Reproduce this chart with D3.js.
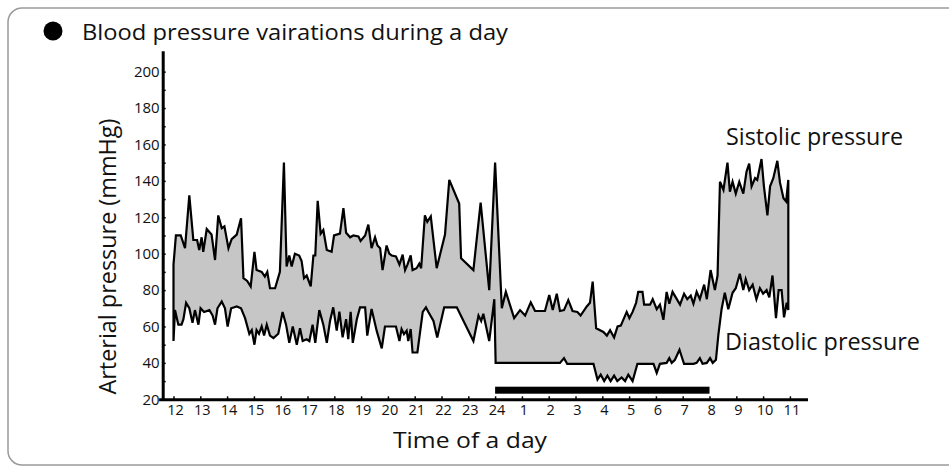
<!DOCTYPE html>
<html>
<head>
<meta charset="utf-8">
<style>
    body { margin: 0; background: #ffffff; }
    svg { display: block; font-family: "Open Sans", "Noto Sans", sans-serif; }
    .axis path, .axis line { stroke: #000; }
    .axis path { stroke-width: 3; }
    .axis line { stroke-width: 1.5; }
    .axis text { font-family: "Open Sans", "Noto Sans", sans-serif; fill: #111; }
</style>
</head>
<body>
<svg id="chart" width="949" height="467"></svg>
<script src="https://cdn.jsdelivr.net/npm/d3@7"></script>
<script>
// hours after 12:00 (0 = 12h, 12 = 24h, 23 = 11h) and pressure in mmHg
let sistolic = [
    [0, 94], [0.09, 110], [0.27, 110], [0.43, 103], [0.59, 132], [0.74, 107.5], [0.88, 107.5],
    [0.96, 102], [1.05, 109], [1.11, 101], [1.24, 113.5], [1.42, 110.5], [1.55, 96.5], [1.67, 121],
    [1.80, 114], [1.90, 115], [2.05, 103], [2.17, 108], [2.36, 110.5], [2.52, 119.5], [2.61, 86.5],
    [2.75, 85], [2.88, 82], [3.02, 101], [3.10, 91], [3.29, 90], [3.41, 87.4], [3.50, 90],
    [3.60, 81], [3.79, 81], [3.97, 90], [4.12, 150], [4.22, 93], [4.32, 99], [4.41, 93],
    [4.53, 100], [4.69, 99], [4.78, 96], [4.87, 86.5], [4.97, 88], [5.12, 82], [5.22, 99],
    [5.29, 99], [5.38, 129], [5.49, 111], [5.59, 113], [5.72, 102], [5.90, 101], [5.99, 110],
    [6.21, 111], [6.34, 125], [6.44, 111.5], [6.59, 109], [6.71, 110], [6.90, 109.5], [6.98, 107],
    [7.15, 110], [7.27, 116], [7.39, 103], [7.52, 109], [7.61, 104.5], [7.71, 103], [7.80, 91],
    [7.95, 104.5], [8.05, 100], [8.14, 99], [8.30, 98.5], [8.43, 94], [8.55, 99.5], [8.64, 91],
    [8.73, 94], [8.85, 99], [8.92, 91], [9.07, 92], [9.17, 94.5], [9.24, 92], [9.38, 121],
    [9.47, 117.5], [9.60, 120.5], [9.82, 92], [10.13, 110.5], [10.29, 140.5], [10.66, 127.5],
    [10.73, 97.5], [11.19, 91], [11.46, 128], [11.78, 80], [12.0, 150], [12.25, 70], [12.40, 79],
    [12.53, 73], [12.71, 64.6], [12.93, 69], [13.12, 66], [13.33, 73.3], [13.49, 68.5], [13.86, 68.5],
    [14.02, 77.3], [14.15, 69], [14.30, 78], [14.42, 68.5], [14.57, 69], [14.73, 74.5], [14.89, 68.5],
    [15.07, 68], [15.19, 66], [15.42, 71], [15.54, 73], [15.64, 84.7], [15.77, 59], [16.04, 57],
    [16.17, 55], [16.29, 58], [16.44, 54], [16.57, 60], [16.69, 60.5], [16.81, 64.6], [16.91, 68],
    [17.01, 64.6], [17.13, 68], [17.26, 73], [17.34, 79], [17.50, 79], [17.56, 72], [17.78, 72],
    [17.88, 75], [18.03, 69.5], [18.15, 72], [18.28, 63.7], [18.40, 79], [18.50, 72.5], [18.62, 79],
    [18.78, 75], [18.90, 72], [19.05, 78], [19.17, 75], [19.30, 77], [19.40, 72.5], [19.52, 79],
    [19.64, 75], [19.80, 83], [19.90, 75], [20.04, 91], [20.20, 80], [20.30, 88], [20.39, 139.5],
    [20.52, 135], [20.67, 150], [20.76, 134], [20.86, 139.5], [20.98, 133], [21.11, 139.5], [21.26, 133],
    [21.38, 145], [21.48, 149.5], [21.57, 137], [21.70, 141.5], [21.78, 140.5], [21.94, 152], [22.03, 137],
    [22.16, 121], [22.26, 137], [22.38, 141.5], [22.53, 151], [22.63, 139], [22.76, 130.5], [22.86, 128.7],
    [22.94, 140.5]
]

let diastolic = [
    [0, 52], [0.056, 69], [0.18, 61], [0.30, 61], [0.37, 64], [0.47, 73], [0.59, 70], [0.71, 62],
    [0.80, 69], [0.93, 61], [1.01, 70], [1.14, 68], [1.34, 69], [1.46, 66], [1.55, 61], [1.64, 70],
    [1.80, 73.7], [1.92, 70], [2.02, 60], [2.15, 70], [2.36, 71], [2.52, 70], [2.67, 64.6], [2.83, 56],
    [2.92, 58], [3.02, 50], [3.10, 58], [3.19, 56], [3.29, 60], [3.38, 55], [3.48, 61], [3.60, 55],
    [3.73, 53.6], [3.91, 56], [4.07, 68], [4.20, 61], [4.32, 51], [4.45, 60], [4.60, 50], [4.72, 59],
    [4.82, 52], [4.97, 53], [5.07, 52], [5.19, 61], [5.29, 51], [5.44, 69], [5.59, 61], [5.72, 51],
    [5.84, 63], [5.96, 70.5], [6.09, 57.7], [6.19, 68.2], [6.31, 54], [6.44, 64], [6.52, 53], [6.61, 68],
    [6.69, 51], [6.84, 64], [6.96, 70.5], [7.15, 70.5], [7.23, 55], [7.39, 69.6], [7.48, 64], [7.58, 57.7],
    [7.77, 48], [7.89, 60], [8.30, 60], [8.43, 52], [8.51, 58.6], [8.60, 55.8], [8.70, 57.7], [8.76, 52],
    [8.85, 58.6], [8.92, 45.7], [9.10, 45.7], [9.30, 68], [9.42, 70.5], [9.51, 68], [9.70, 63], [9.84, 54],
    [10.10, 70.5], [10.57, 70.5], [11.19, 52], [11.38, 66], [11.48, 63], [11.56, 67], [11.78, 52], [11.97, 75],
    [12.02, 40], [14.42, 40], [14.57, 42.6], [14.69, 39.5], [15.67, 39.5], [15.82, 30.8], [15.94, 33.5],
    [16.07, 30], [16.19, 33], [16.31, 30], [16.44, 33], [16.56, 30], [16.72, 32], [16.85, 30], [16.97, 33.5],
    [17.13, 30], [17.31, 39.5], [17.91, 39.5], [18.03, 34.5], [18.15, 39.5], [18.40, 40], [18.50, 42.6],
    [18.59, 40], [18.71, 41.7], [18.88, 47.2], [18.96, 43.5], [19.05, 39.5], [19.40, 39.5], [19.52, 40],
    [19.64, 42.6], [19.74, 39.5], [19.90, 40], [20.02, 42.6], [20.12, 40], [20.24, 41.7], [20.33, 55.4],
    [20.45, 69.5], [20.57, 78.5], [20.70, 69.5], [20.86, 78.5], [20.98, 81], [21.13, 89], [21.26, 80],
    [21.35, 86], [21.48, 80], [21.61, 83], [21.75, 75], [21.88, 81], [22.00, 78], [22.13, 80], [22.23, 76],
    [22.35, 88], [22.48, 64.6], [22.58, 80], [22.69, 80], [22.78, 65], [22.88, 73], [22.94, 69]
]

let hourLabels = ["12", "13", "14", "15", "16", "17", "18", "19", "20", "21", "22", "23",
                  "24", "1", "2", "3", "4", "5", "6", "7", "8", "9", "10", "11"]
let yLabelTicks = [20, 40, 60, 80, 100, 120, 140, 160, 180, 200]
let yMinorTicks = [30, 50, 70, 90, 110, 130, 150, 170, 190]
let sleepHours = [12, 20]   // 24h -> 8h
let sleepLevel = 25

let svg = d3.select("#chart")

// frame
svg.append("rect")
    .attr("x", 8).attr("y", 8)
    .attr("width", 980).attr("height", 457)
    .attr("rx", 14)
    .attr("fill", "none")
    .attr("stroke", "#9a9a9a")
    .attr("stroke-width", 1.5)

// title
svg.append("circle")
    .attr("cx", 53).attr("cy", 31).attr("r", 9.5)
    .attr("fill", "#000")
svg.append("text")
    .attr("x", 82).attr("y", 39.5)
    .attr("font-size", 22)
    .attr("textLength", 426).attr("lengthAdjust", "spacingAndGlyphs")
    .attr("fill", "#111")
    .text("Blood pressure vairations during a day")

let xScale = d3.scaleLinear()
    .domain([-0.5, 23.6])
    .range([160.1, 806])

let yScale = d3.scaleLinear()
    .domain([20, 211.5])
    .range([399.3, 50.7])

// filled band between the two series
let band = sistolic.concat(diastolic.slice().reverse())
let line = d3.line()
    .x(d => xScale(d[0]))
    .y(d => yScale(d[1]))

svg.append("path")
    .attr("d", line(band) + "Z")
    .attr("fill", "#c6c6c6")
    .attr("stroke", "#000")
    .attr("stroke-width", 2.2)
    .attr("stroke-linejoin", "miter")

// sleep bar
svg.append("rect")
    .attr("x", xScale(sleepHours[0]))
    .attr("width", xScale(sleepHours[1]) - xScale(sleepHours[0]))
    .attr("y", yScale(sleepLevel) - 3.5)
    .attr("height", 7)
    .attr("fill", "#000")

// axes
let yAxis = svg.append("g")
    .attr("class", "axis")
    .attr("transform", "translate(162.7,0)")
    .call(d3.axisLeft(yScale)
        .tickValues(yLabelTicks.concat(yMinorTicks))
        .tickFormat(d => yLabelTicks.includes(d) ? d : "")
        .tickSizeInner(-3)
        .tickSizeOuter(0)
        .tickPadding(3))
yAxis.selectAll("text").attr("font-size", 15)

let xAxis = svg.append("g")
    .attr("class", "axis")
    .attr("transform", "translate(0,399.3)")
    .call(d3.axisBottom(xScale)
        .tickValues(d3.range(hourLabels.length))
        .tickFormat((d, i) => hourLabels[i])
        .tickSizeInner(-3)
        .tickSizeOuter(0)
        .tickPadding(5))
xAxis.selectAll("text").attr("dx", 1.5).attr("font-size", 14.5)
xAxis.select(".domain").attr("stroke-linecap", "square")

// series names
svg.append("text")
    .attr("x", 726).attr("y", 145)
    .attr("font-size", 23)
    .attr("textLength", 177).attr("lengthAdjust", "spacingAndGlyphs")
    .attr("fill", "#111")
    .text("Sistolic pressure")

svg.append("text")
    .attr("x", 725).attr("y", 350)
    .attr("font-size", 23)
    .attr("textLength", 195).attr("lengthAdjust", "spacingAndGlyphs")
    .attr("fill", "#111")
    .text("Diastolic pressure")

// axis titles
svg.append("text")
    .attr("transform", "translate(116,256.5) rotate(-90)")
    .attr("text-anchor", "middle")
    .attr("font-size", 24)
    .attr("textLength", 276).attr("lengthAdjust", "spacingAndGlyphs")
    .attr("fill", "#111")
    .text("Arterial pressure (mmHg)")

svg.append("text")
    .attr("x", 470).attr("y", 448)
    .attr("text-anchor", "middle")
    .attr("font-size", 22)
    .attr("textLength", 154).attr("lengthAdjust", "spacingAndGlyphs")
    .attr("fill", "#111")
    .text("Time of a day")
</script>
</body>
</html>
